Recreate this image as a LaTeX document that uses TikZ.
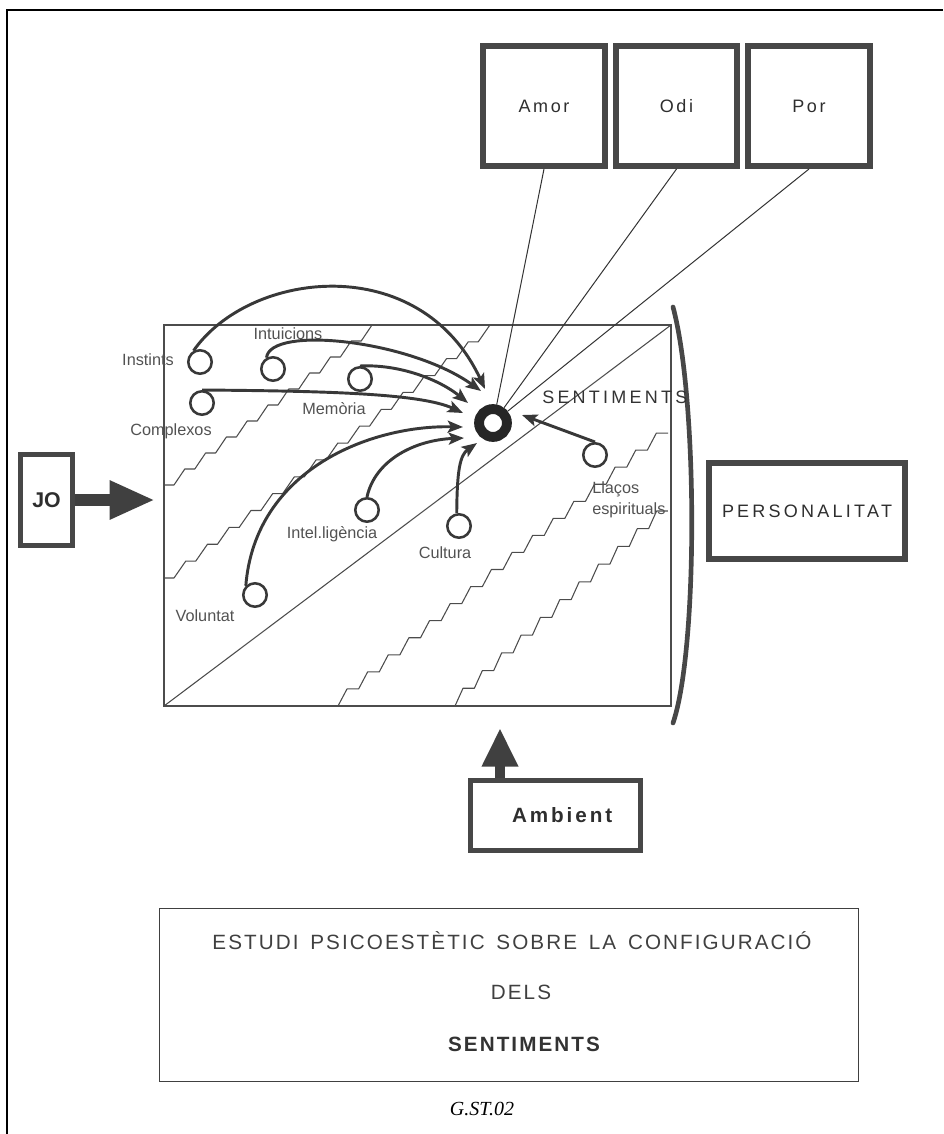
\documentclass[tikz,border=0pt]{standalone}
\usepackage{fontspec}
\setmainfont{Liberation Sans}
\newfontfamily\spacedA[LetterSpace=18]{Liberation Sans}
\newfontfamily\spacedB[LetterSpace=10]{Liberation Sans}
\newfontfamily\spacedC[LetterSpace=14]{Liberation Sans}
\newfontfamily\serifit{Liberation Serif}
\usetikzlibrary{arrows.meta}
\tikzset{
  thickbox/.style={draw=black!72, line width=4.5pt, inner sep=0pt, text=black!82},
  lbl/.style={text=black!68, font=\fontsize{12.2}{14}\selectfont, inner sep=0pt, anchor=mid},
  smallcirc/.style={circle, draw=black!78, line width=1.9pt, minimum size=17.6pt, inner sep=0pt},
  feed/.style={draw=black!78, line width=2.2pt, -{Stealth[length=11.5pt,width=9pt,inset=2.5pt]}},
  fieldline/.style={draw=black!70, line width=0.8pt},
  stair/.style={draw=black!70, line width=0.8pt, line join=round},
  ray/.style={draw=black!80, line width=0.75pt},
  bigtext/.style={font=\spacedA\fontsize{13.5}{16}\selectfont},
  boxtext/.style={font=\spacedC\fontsize{13.5}{16}\selectfont},
}
\begin{document}
\begin{tikzpicture}[x=0.75pt,y=-0.75pt]
\useasboundingbox (0,0) rectangle (943,1134);
% page frame
\draw[line width=1.6pt] (7,1134) -- (7,10) -- (943,10);

% field rectangle
\coordinate (rNW) at (164,325);
\coordinate (rSE) at (671,706);
\coordinate (rSW) at (164,706);
\coordinate (rNE) at (671,325);
\draw[fieldline] (rNW) rectangle (rSE);
\draw[fieldline] (rSW) -- (rNE);

% staircases
\draw[stair] (164,485) \foreach \i in {1,...,10}{ -- ++(10,0) -- ++(10.8,-16) };
\draw[stair] (164,578) \foreach \i in {1,...,15}{ -- ++(10,0) -- ++(11.73,-16.87) };
\draw[stair] (338,706) \foreach \i in {1,...,16}{ -- ++(9,-17.06) -- ++(11.625,0) };
\draw[stair] (455,706) \foreach \i in {1,...,11}{ -- ++(8,-17.73) -- ++(11.36,0) };

% bracket
\draw[draw=black!72, line width=3.5pt, line cap=round] (673,307) .. controls (698,400) and (698,650) .. (673,723);

% top boxes
\node[thickbox, boxtext, minimum width=91.5pt, minimum height=90pt] (amor) at (544,106) {Amor};
\node[thickbox, boxtext, minimum width=90.75pt, minimum height=90pt] (odi) at (676.5,106) {Odi};
\node[thickbox, boxtext, minimum width=91.5pt, minimum height=90pt] (por) at (809,106) {Por};

% ring
\node[circle, draw=black!85, line width=7.4pt, minimum size=20.9pt, inner sep=0pt] (ring) at (493,423) {};
\node[bigtext, text=black!80, anchor=mid west, inner sep=0pt] (lSent) at (542,400) {SENTIMENTS};

\draw[ray] (amor.south) -- (ring);
\draw[ray] (odi.south) -- (ring);
\draw[ray] (por.south) -- (ring);

% small circles
\node[smallcirc] (cInst) at (200,362) {};
\node[smallcirc] (cIntu) at (273,369) {};
\node[smallcirc] (cMem) at (360,379) {};
\node[smallcirc] (cComp) at (202,403) {};
\node[smallcirc] (cInt) at (367,510) {};
\node[smallcirc] (cCult) at (459,526) {};
\node[smallcirc] (cVol) at (255,595) {};
\node[smallcirc] (cLla) at (595,455) {};

% labels
\node[lbl] (lInst) at (148,362) {Instints};
\node[lbl] (lIntu) at (288,336) {Intuicions};
\node[lbl] (lMem) at (334,411) {Memòria};
\node[lbl] (lComp) at (171,432) {Complexos};
\node[lbl] (lInt) at (332,535) {Intel.ligència};
\node[lbl] (lCult) at (445,555) {Cultura};
\node[lbl] (lVol) at (205,618) {Voluntat};
\node[lbl, anchor=mid west] (lLla1) at (592,490) {Llaços};
\node[lbl, anchor=mid west] (lLla2) at (592,511) {espirituals};

% arrow tips
\coordinate (tInst) at (485,389);
\coordinate (tIntu) at (481,391);
\coordinate (tMem) at (468,403);
\coordinate (tComp) at (463,413);
\coordinate (tVol) at (463,427);
\coordinate (tInt) at (464,438);
\coordinate (tCult) at (477,443);
\coordinate (tLla) at (522,415);

\draw[feed] (cInst.120) .. controls (250,270) and (420,250) .. (tInst);
\draw[feed] (cIntu.120) .. controls (270,325) and (410,340) .. (tIntu);
\draw[feed] (cMem.north) .. controls (400,364) and (440,380) .. (tMem);
\draw[feed] (cComp.north) .. controls (320,391) and (420,393) .. (tComp);
\draw[feed] (cVol.135) .. controls (255,470) and (370,425) .. (tVol);
\draw[feed] (cInt.north) .. controls (375,460) and (415,440) .. (tInt);
\draw[feed] (cCult.100) .. controls (457,470) and (460,455) .. (tCult);
\draw[feed] (cLla.north) -- (tLla);

% PERSONALITAT
\node[thickbox, bigtext, minimum width=147pt, minimum height=72pt] (pers) at (807,511) {PERSONALITAT};

% JO
\node[thickbox, line width=3.75pt, minimum width=39pt, minimum height=68pt, font=\bfseries\fontsize{16}{18}\selectfont] (jo) at (46.5,500) {JO\hspace{8pt}};
\coordinate (jotip) at (155,500);
\draw[draw=black!75, line width=9pt, -{Triangle[length=34pt,width=27pt]}] (jo.east) -- (jotip);

% Ambient
\node[thickbox, line width=3.75pt, minimum width=127.5pt, minimum height=52.5pt, font=\spacedC\bfseries\fontsize{15.5}{18}\selectfont] (amb) at (555.5,815.5) {\hspace{10pt}Ambient};
\coordinate (ambtip) at (500,728);
\draw[draw=black!75, line width=7.5pt, -{Triangle[length=29pt,width=25.5pt]}] (amb.north -| ambtip) -- (ambtip);

% title box
\node[draw=black!75, line width=1.1pt, minimum width=524pt, minimum height=130pt, inner sep=0pt] (titlebox) at (509,995) {};
\node[font=\spacedB\fontsize{15.5}{18}\selectfont, text=black!75, anchor=mid, inner sep=0pt] (tt1) at (512,946) {ESTUDI\hspace{3pt} PSICOESTÈTIC\hspace{3pt} SOBRE\hspace{3pt} LA\hspace{3pt} CONFIGURACIÓ};
\node[font=\spacedB\fontsize{15.5}{18}\selectfont, text=black!75, anchor=mid, inner sep=0pt] (tt2) at (521,996) {DELS};
\node[font=\spacedB\bfseries\fontsize{15.5}{18}\selectfont, text=black!80, anchor=mid, inner sep=0pt] (tt3) at (524,1048) {SENTIMENTS};
\node[font=\serifit\itshape\fontsize{15}{18}\selectfont, anchor=mid, inner sep=0pt] (code) at (482,1112) {G.ST.02};
\end{tikzpicture}
\end{document}
